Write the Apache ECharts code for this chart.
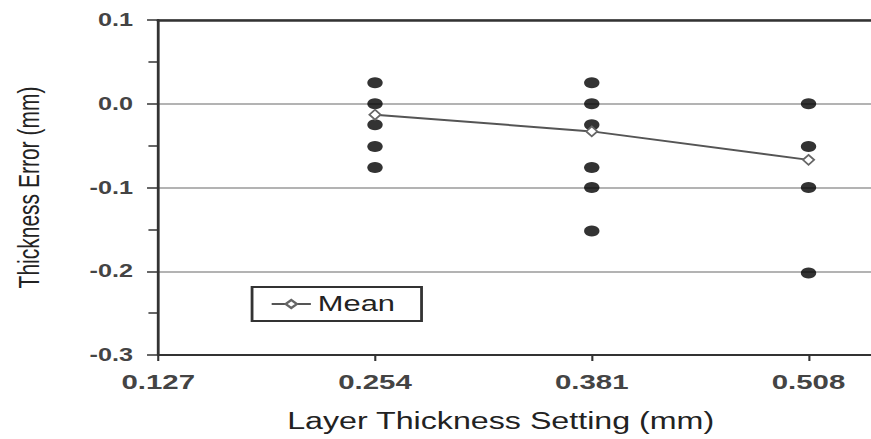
<!DOCTYPE html>
<html>
<head>
<meta charset="utf-8">
<script src="https://cdn.jsdelivr.net/npm/echarts@6/dist/echarts.min.js"></script>
<style>
html,body{margin:0;padding:0;background:#fff;overflow:hidden;}
#chart{width:622px;height:439px;transform:scaleX(1.40032);transform-origin:0 0;}
</style>
</head>
<body>
<div id="chart"></div>
<script>
// Layer thickness settings (mm) and measured thickness errors (mm)
var xTicks = [0.127, 0.254, 0.381, 0.508];
var pts254 = [0.025, 0.0, -0.025, -0.051, -0.076];
var pts381 = [0.025, 0.0, -0.025, -0.076, -0.100, -0.152];
var pts508 = [0.0, -0.051, -0.100, -0.202];
var meanX = [0.254, 0.381, 0.508];
var meanY = [-0.013, -0.033, -0.067];
var yTicks = [-0.3, -0.2, -0.1, 0.0, 0.1];

var scatterData = [];
pts254.forEach(function(v){ scatterData.push([0.254, v]); });
pts381.forEach(function(v){ scatterData.push([0.381, v]); });
pts508.forEach(function(v){ scatterData.push([0.508, v]); });
var meanData = meanX.map(function(x, i){ return [x, meanY[i]]; });

var font = "'Liberation Sans', Arial, sans-serif";
var chart = echarts.init(document.getElementById('chart'), null, {renderer: 'svg'});
chart.setOption({
  animation: false,
  backgroundColor: '#fff',
  grid: {left: 113, right: 0, top: 20, bottom: 84, containLabel: false},
  legend: {
    data: ['Mean'],
    left: 180, top: 287,
    orient: 'horizontal',
    padding: [6, 19, 6, 13],
    borderColor: '#333', borderWidth: 2,
    itemWidth: 28, itemHeight: 10,
    textStyle: {fontFamily: font, fontSize: 22, color: '#222'}
  },
  xAxis: [{
    type: 'value',
    min: xTicks[0], max: 0.5446, interval: 0.127,
    name: 'Layer Thickness Setting (mm)',
    nameLocation: 'middle', nameGap: 55,
    nameTextStyle: {fontFamily: font, fontSize: 23, color: '#222', padding: [0, 20, 0, 0]},
    axisLine: {show: true, onZero: false, lineStyle: {color: '#333', width: 2}},
    axisTick: {show: true, inside: false, length: 6, lineStyle: {color: '#333', width: 1.5}},
    axisLabel: {show: true, margin: 16, fontFamily: font, fontSize: 21, fontWeight: 'bold', color: '#444', showMaxLabel: false,
      formatter: function(v){ return v.toFixed(3); }},
    splitLine: {show: false}
  }, {
    type: 'value', position: 'top',
    min: xTicks[0], max: 0.5446, interval: 0.127,
    axisLine: {show: true, onZero: false, lineStyle: {color: '#333', width: 2.5}},
    axisTick: {show: false}, axisLabel: {show: false}, splitLine: {show: false}
  }],
  yAxis: {
    type: 'value',
    min: yTicks[0], max: yTicks[yTicks.length - 1], interval: 0.1,
    name: 'Thickness Error (mm)',
    nameLocation: 'middle', nameGap: 82,
    nameTextStyle: {fontFamily: font, fontSize: 21, color: '#222'},
    axisLine: {show: true, onZero: false, lineStyle: {color: '#333', width: 2}},
    axisTick: {show: true, inside: false, length: 8, lineStyle: {color: '#333', width: 1.5}},
    minorTick: {show: true, splitNumber: 2, length: 7, lineStyle: {color: '#333', width: 1.5}},
    axisLabel: {margin: 18, fontFamily: font, fontSize: 18, fontWeight: 'bold', color: '#444',
      formatter: function(v){ return v.toFixed(1); }},
    splitLine: {show: true, lineStyle: {color: '#9a9a9a', width: 1.5}}
  },
  series: [{
    name: 'Data', type: 'scatter', xAxisIndex: 0,
    data: scatterData,
    symbol: 'circle', symbolSize: 11,
    itemStyle: {color: '#000'},
    z: 3
  }, {
    name: 'Mean', type: 'line', xAxisIndex: 0,
    data: meanData,
    symbol: 'diamond', symbolSize: [8, 10],
    lineStyle: {color: '#555', width: 2},
    itemStyle: {color: '#fff', borderColor: '#666', borderWidth: 1.5},
    z: 4
  }]
});
</script>
</body>
</html>
